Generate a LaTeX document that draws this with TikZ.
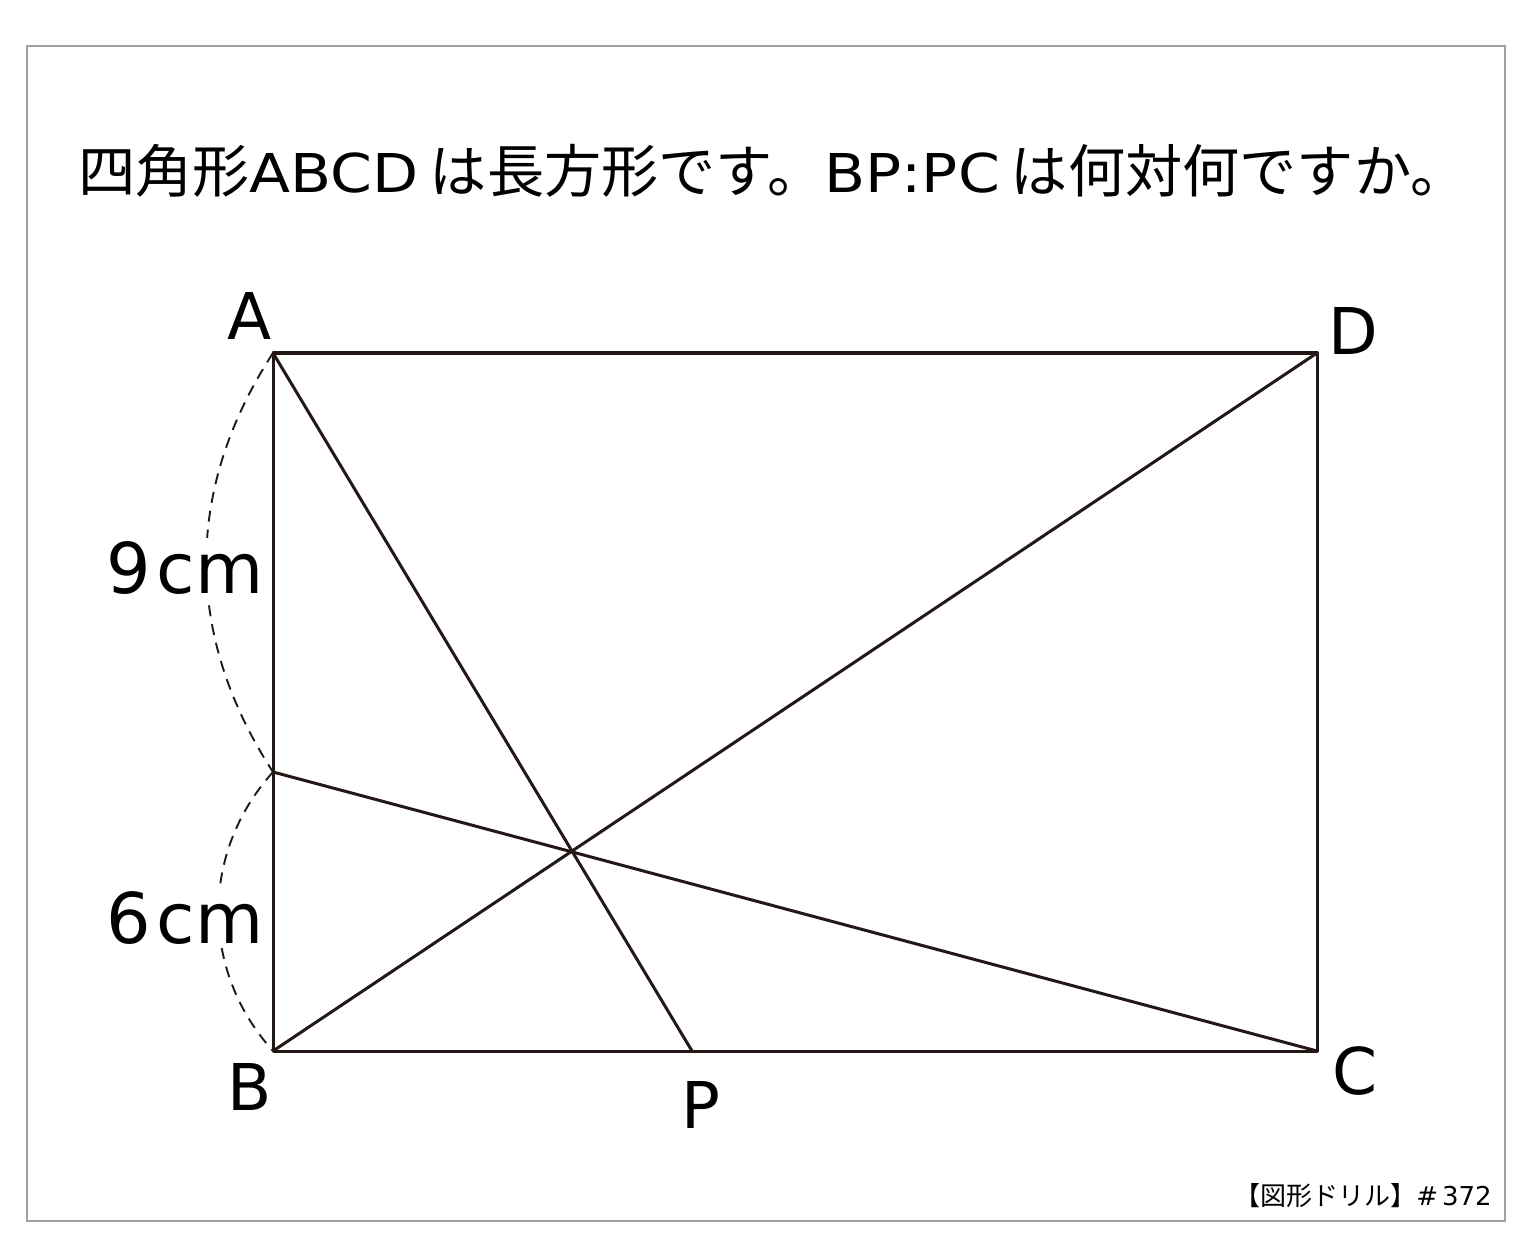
\documentclass[tikz,border=0pt]{standalone}
\usepackage{fontspec}
\setmainfont{Noto Sans CJK JP}
\newfontfamily\latf{DejaVu Sans}
\newfontfamily\latwide{DejaVu Sans}[FakeStretch=1.12]
\definecolor{ink}{HTML}{231815}
\definecolor{frame}{HTML}{A0A0A0}
\newcommand{\tl}[1]{{\latwide\fontsize{53.5}{60}\selectfont #1}}
\tikzset{
  edge/.style={draw=ink, line width=3pt, line cap=round, line join=round},
  dimarc/.style={draw=ink, line width=1.9pt, dash pattern=on 11pt off 8pt},
  vlabel/.style={anchor=base, font=\latf\fontsize{64.5}{70}\selectfont, text=black, inner sep=0pt},
  mlabel/.style={font=\latf\fontsize{70}{76}\selectfont, text=black, fill=white, inner sep=4pt},
}
\begin{document}
\begin{tikzpicture}[x=1pt, y=-1pt]
\useasboundingbox (0,0) rectangle (1529,1249);
\fill[white] (0,0) rectangle (1529,1249);
\draw[frame, line width=1.5pt] (27,46) rectangle (1505,1221);

\node[anchor=base west, font=\fontsize{57.2}{60}\selectfont, inner sep=0pt] (title) at (78,193)
  {四角形\tl{ABCD}\kern11pt は長方形です。\tl{BP:PC}\kern11pt は何対何ですか。};
\node[anchor=base east, font=\fontsize{26}{30}\selectfont, inner sep=0pt] (foot) at (1492,1205)
  {【図形ドリル】\kern0pt{\latf\#\kern4pt 372}};

\coordinate (A) at (273,353);
\coordinate (D) at (1317,353);
\coordinate (B) at (273,1051);
\coordinate (C) at (1317,1051);
\coordinate (E) at (273,772);
\coordinate (P) at (692,1051);

\draw[dimarc] (A) to[bend right=33] (E);
\draw[dimarc] (E) to[bend right=42] (B);

\draw[edge] (A) -- (D) -- (C) -- (B) -- cycle;
\draw[edge] (A) -- (P);
\draw[edge] (B) -- (D);
\draw[edge] (E) -- (C);

\node[mlabel] (m9) at (185,568) {9\kern6pt cm};
\node[mlabel] (m6) at (185,918) {6\kern6pt cm};

\node[vlabel] (lA) at (250,340) {A};
\node[vlabel] (lD) at (1353,355) {D};
\node[vlabel] (lB) at (250,1110) {B};
\node[vlabel] (lC) at (1355,1094) {C};
\node[vlabel] (lP) at (701,1128) {P};
\end{tikzpicture}
\end{document}
